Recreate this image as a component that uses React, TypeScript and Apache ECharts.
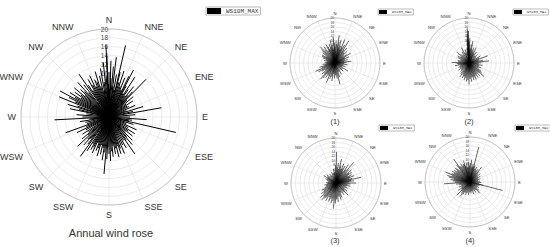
import { useEffect, useRef } from 'react';
import * as echarts from 'echarts';

const directions = ['N', 'NNE', 'NE', 'ENE', 'E', 'ESE', 'SE', 'SSE', 'S', 'SSW', 'SW', 'WSW', 'W', 'WNW', 'NW', 'NNW'];
const speedMax = 20;
const speedStep = 2;
const seriesName = 'WS10M_MAX';
const panelCaptions = ['Annual wind rose', '(1)', '(2)', '(3)', '(4)'];

// [direction in degrees, speed]
const annualWind: number[][] = [
  [341, 8.5], [343, 10.8], [345, 7.2], [347, 9.6], [349, 6.1], [350, 11.2], [352, 8.0], [354, 12.5], [356, 9.3], [357.6, 16.3],
  [358, 13.8], [359, 7.5], [0, 10.2], [1, 6.4], [2, 12.8], [3, 8.8], [5, 11.5], [7, 13.7], [8, 7.0], [10, 9.8],
  [12, 6.3], [13, 16.7], [14, 10.5], [16, 8.2], [18, 11.0], [20, 7.4],
  [22, 9.6], [24, 6.8], [26, 10.3], [27.5, 12.0], [29, 8.0], [31, 6.2], [33, 10.8], [35, 7.6], [37, 5.9], [39, 8.9],
  [41, 6.5], [43, 7.8], [44.5, 12.0], [47, 5.6], [50, 7.2], [53, 4.9], [56, 6.6], [59, 4.8],
  [62, 5.1], [66, 6.5], [70, 4.2], [73, 8.1], [77, 5.6], [80, 12.1], [85, 6.0], [90, 4.8], [94, 8.6], [98, 5.3],
  [101, 4.6], [103, 15.6], [107, 5.8], [111, 4.2], [115, 6.9], [119, 5.0], [123, 7.0],
  [126, 5.4], [129, 6.9], [132, 5.1], [135, 7.5], [138, 6.0], [140, 8.2], [143, 6.6], [145, 10.2], [148, 6.3], [151, 8.0],
  [154, 7.1], [157, 9.0],
  [160, 7.6], [162, 8.8], [164, 6.9], [166, 9.4], [168, 7.3], [170, 8.5], [172, 6.7], [174, 9.1], [176, 7.8], [178, 10.0],
  [180, 8.4], [182, 6.9], [183, 9.6], [185, 13.0], [187, 8.1], [189, 9.9], [191, 7.2], [193, 8.7], [195, 6.6], [197, 9.3],
  [199, 7.5], [201, 8.2], [203, 6.4], [205, 9.0], [207, 7.7], [209, 8.5],
  [211, 7.1], [213, 9.2], [216, 11.1], [218, 7.8], [220, 6.5], [222, 8.6], [224, 7.0], [227, 9.8], [229, 6.3], [231, 7.9],
  [234, 5.8], [237, 7.2], [241, 6.0], [244, 8.1], [247, 5.6], [250, 10.5], [253, 5.2],
  [257, 5.5], [261, 6.7], [264, 4.5], [267, 12.4], [270, 6.0], [274, 7.4], [278, 5.2], [282, 9.1],
  [284, 7.0], [287, 9.8], [289, 7.6], [292, 12.2], [294, 8.4], [296, 10.1], [298, 12.6], [300, 8.9], [302, 10.5], [304, 7.7],
  [306, 9.6], [308, 8.1], [310, 10.3], [312, 7.4], [314, 9.0], [316, 8.0], [318, 10.6], [320, 7.2], [322, 9.3], [325, 11.9],
  [327, 8.6], [329, 7.0], [331, 9.8], [333, 8.2], [335, 10.4], [337, 7.5], [339, 9.1],
];

const wind1: number[][] = [
  [340, 6.5], [343, 9.0], [346, 7.4], [348, 10.4], [351, 8.2], [353, 6.0], [356, 11.6], [358, 9.1], [0, 7.3], [3, 10.0],
  [5, 8.4], [8.7, 12.5], [11, 9.5], [13, 7.1], [15, 10.7], [18, 8.0], [20, 6.2], [22.6, 11.3], [25, 7.6], [28, 9.2],
  [32, 11.6], [35, 7.0], [38, 8.5], [42, 6.1], [46, 7.3], [50, 5.2], [54, 6.4], [58, 8.2], [62, 5.0], [66, 6.8],
  [70, 4.6], [75, 5.9], [80, 4.2], [84, 7.3], [88, 5.1], [93, 4.0], [98, 5.6], [104, 3.8], [110, 4.9], [116, 3.6],
  [122, 6.8], [128, 4.3], [135, 5.2], [142, 3.9], [150, 5.8], [156, 4.4], [162, 6.6], [167, 9.7], [172, 7.0], [177, 5.5],
  [182, 6.9], [186, 4.8], [190, 8.1], [194, 6.2], [198, 7.4], [204, 9.5], [208, 6.3], [212, 7.8], [216, 5.9], [219, 8.7],
  [222, 9.7], [226, 6.8], [230, 7.6], [234, 5.4], [238, 6.9], [242, 8.3], [247, 9.4], [251, 6.1], [255, 7.2], [259, 4.8],
  [264, 5.6], [268, 3.9], [273, 4.6], [278, 3.5], [283, 5.0], [288, 4.1], [293, 5.8], [298, 6.5], [302, 6.8], [306, 5.2],
  [310, 7.1], [314, 8.3], [318, 9.7], [322, 7.5], [326, 8.8], [330, 6.4], [334, 9.2], [337, 7.8],
];

const wind2: number[][] = [
  [350, 5.2], [353, 7.0], [355, 10.5], [356, 13.0], [357, 15.5], [358, 12.2], [359, 14.3], [0, 9.8], [2, 11.0], [4, 6.5],
  [7, 8.3], [10, 9.9], [13, 6.1], [17, 7.2], [21, 5.4], [25, 7.5], [29, 4.8], [34, 5.9], [40, 4.2], [46, 5.3],
  [52, 3.9], [58, 6.0], [64, 5.1], [69, 8.9], [74, 4.6], [79, 6.3], [84, 9.0], [89, 5.5], [94, 4.3], [100, 6.1],
  [106, 4.7], [112, 5.8], [118, 4.9], [124, 6.6], [128, 7.2], [132, 9.2], [136, 6.0], [140, 7.4], [144, 5.9], [148, 7.7],
  [152, 6.3], [156, 8.0], [160, 6.8], [164, 7.9], [168, 6.5], [172, 8.4], [176, 7.1], [180, 9.6], [184, 7.6], [188, 8.3],
  [192, 6.9], [196, 7.8], [200, 6.4], [204, 7.3], [208, 5.8], [213, 7.4], [218, 6.0], [224, 5.3], [230, 4.6], [236, 5.7],
  [242, 4.4], [248, 5.1], [254, 4.0], [259, 6.3], [264, 4.9], [268, 5.5], [272, 7.7], [277, 4.8], [283, 5.2], [290, 4.1],
  [296, 5.5], [302, 6.0], [307, 4.7], [312, 7.4], [317, 5.3], [322, 4.6], [328, 5.9], [334, 7.6], [339, 4.9], [344, 6.2],
];

const wind3: number[][] = [
  [345, 4.5], [350, 6.2], [354, 5.0], [358, 8.1], [1, 13.8], [4, 7.2], [7, 9.0], [10, 6.3], [13, 10.9], [16, 8.0],
  [19, 6.6], [22, 9.3], [25, 7.1], [28, 8.6], [31, 6.0], [34, 9.8], [37, 7.4], [40.6, 12.0], [44, 8.2], [47, 6.5],
  [50, 9.0], [53, 7.3], [56, 8.4], [59, 6.1], [62, 7.9], [65, 6.8], [68, 8.7], [71, 6.2], [74, 7.5], [77, 11.5],
  [80, 6.9], [83, 8.0], [86, 5.8], [90, 9.0], [94, 6.4], [98, 5.2], [103, 6.6], [108, 4.9], [114, 5.7], [120, 4.5],
  [126, 6.1], [131, 5.0], [135, 7.6], [140, 5.4], [146, 6.3], [152, 5.1], [158, 6.9], [163, 7.8], [168, 6.2], [173, 8.5],
  [178, 7.3], [182, 9.1], [186, 11.5], [190, 8.0], [194, 9.3], [198, 7.4], [202, 8.8], [206, 7.0], [210, 9.2], [214, 7.7],
  [217, 8.6], [220, 9.8], [223, 8.1], [227, 9.5], [230, 7.2], [234, 8.0], [238, 6.3], [243, 7.1], [248, 5.4], [254, 4.6],
  [260, 5.3], [266, 3.9], [272, 4.4], [278, 3.6], [285, 4.2], [292, 5.0], [298, 4.3], [301, 6.4], [306, 4.8], [312, 5.5],
  [318, 4.1], [325, 4.9], [332, 3.8], [338, 5.2],
];

const wind4: number[][] = [
  [342, 8.0], [343, 9.9], [346, 7.2], [349, 8.8], [352, 6.6], [355, 9.0], [358, 7.4], [1, 8.5], [4, 9.9], [7, 6.8],
  [10, 8.2], [12, 7.0], [14, 16.0], [17, 7.6], [20, 6.1], [24, 7.3], [28, 5.8], [32, 6.9], [35, 5.1], [38, 8.3],
  [42, 5.7], [46, 4.6], [51, 5.9], [56, 4.2], [61, 5.3], [67, 3.9], [73, 4.8], [79, 3.6], [85, 4.4], [92, 5.0],
  [98, 4.1], [104, 5.9], [104.5, 15.0], [110, 4.5], [116, 3.8], [122, 4.7], [128, 3.9], [133, 5.6], [139, 6.7], [145, 4.4],
  [151, 5.3], [157, 4.0], [163, 5.6], [169, 4.3], [175, 5.1], [181, 4.6], [187, 5.8], [193, 4.9], [199, 6.0], [205, 5.2],
  [210, 6.4], [214, 7.8], [218, 6.1], [222, 5.5], [225, 8.2], [229, 5.0], [234, 6.3], [239, 4.5], [245, 5.4], [251, 4.1],
  [256, 5.0], [261, 6.2], [266, 11.6], [270, 6.8], [274, 7.5], [277, 8.8], [280, 7.3], [283, 9.6], [286, 10.5], [289, 8.6],
  [292, 11.7], [295, 9.0], [298, 8.1], [301, 9.4], [304, 7.8], [307, 8.9], [310, 7.4], [313, 9.2], [316, 8.3], [319, 7.1],
  [322, 9.5], [324.5, 12.5], [327, 8.4], [330, 7.6], [333, 9.1], [336, 7.9], [339, 8.6],
];

const panelData = [annualWind, wind1, wind2, wind3, wind4];

// layout (style, not data)
const panels = [
  { cx: 109, cy: 117, r: 88, dirFont: 9, dirMargin: 5, tickFont: 6.5, lw: 1.0,
    legend: { left: 206, top: 7, iw: 14, ih: 6, font: 6 }, caption: { x: 111, y: 233, font: 11 } },
  { cx: 335, cy: 63, r: 45, dirFont: 4.2, dirMargin: 3, tickFont: 3.2, lw: 0.6,
    legend: { left: 378, top: 9, iw: 8, ih: 4, font: 3.6 }, caption: { x: 335, y: 121, font: 7.5 } },
  { cx: 469, cy: 63, r: 45, dirFont: 4.2, dirMargin: 3, tickFont: 3.2, lw: 0.6,
    legend: { left: 513, top: 9, iw: 8, ih: 4, font: 3.6 }, caption: { x: 469, y: 121, font: 7.5 } },
  { cx: 336, cy: 183, r: 45, dirFont: 4.2, dirMargin: 3, tickFont: 3.2, lw: 0.6,
    legend: { left: 379, top: 125, iw: 8, ih: 4, font: 3.6 }, caption: { x: 335, y: 240, font: 7.5 } },
  { cx: 470, cy: 182, r: 45, dirFont: 4.2, dirMargin: 3, tickFont: 3.2, lw: 0.6,
    legend: { left: 515, top: 125, iw: 8, ih: 4, font: 3.6 }, caption: { x: 470, y: 240, font: 7.5 } },
];

export default function App() {
  const ref = useRef<HTMLDivElement>(null);
  useEffect(() => {
    if (!ref.current) return;
    const chart = echarts.init(ref.current, undefined, { renderer: 'svg' });
    const option: any = {
      animation: false,
      backgroundColor: '#fff',
      polar: panels.map((p) => ({ center: [p.cx, p.cy], radius: p.r })),
      angleAxis: panels.map((p, i) => ({
        polarIndex: i,
        type: 'value',
        min: 0,
        max: 360,
        interval: 22.5,
        startAngle: 90,
        clockwise: true,
        axisLine: { show: true, lineStyle: { color: '#c8c8c8', width: 1 } },
        axisTick: { show: false },
        axisLabel: {
          show: true,
          margin: p.dirMargin,
          fontSize: p.dirFont,
          color: '#333',
          fontFamily: 'Liberation Sans, Arial, sans-serif',
          formatter: (v: number) => (v >= 360 ? '' : directions[Math.round(v / 22.5) % 16]),
        },
        splitLine: { show: true, lineStyle: { color: '#e6e6e6', width: 0.8 } },
      })),
      radiusAxis: panels.map((p, i) => ({
        polarIndex: i,
        type: 'value',
        min: 0,
        max: speedMax,
        interval: speedStep,
        axisLine: { show: false },
        axisTick: { show: false },
        axisLabel: {
          show: true,
          fontSize: p.tickFont,
          color: '#444',
          margin: 1,
          fontFamily: 'Liberation Sans, Arial, sans-serif',
          formatter: (v: number) => (v === 0 ? '' : String(v)),
        },
        splitLine: { show: true, lineStyle: { color: '#e6e6e6', width: 0.8 } },
      })),
      legend: panels.map((p) => ({
        left: p.legend.left,
        top: p.legend.top,
        data: [{ name: seriesName, icon: 'rect' }],
        itemWidth: p.legend.iw,
        itemHeight: p.legend.ih,
        padding: [1, 2, 1, 1],
        borderColor: '#aaa',
        borderWidth: 0.8,
        selectedMode: false,
        textStyle: { fontSize: p.legend.font, color: '#333', fontFamily: 'Liberation Mono, DejaVu Sans Mono, monospace' },
      })),
      series: panelData.map((arr, i) => ({
        type: 'custom',
        name: seriesName,
        coordinateSystem: 'polar',
        polarIndex: i,
        itemStyle: { color: '#000' },
        encode: { radius: 0, angle: 1 },
        data: arr.map(([d, s]) => [s, d]),
        renderItem: (params: any, api: any) => {
          const s = api.value(0);
          const d = api.value(1);
          const p0 = api.coord([0, d]);
          const p1 = api.coord([s, d]);
          return {
            type: 'line',
            shape: { x1: p0[0], y1: p0[1], x2: p1[0], y2: p1[1] },
            style: { stroke: '#000', lineWidth: panels[i].lw },
          };
        },
      })),
      graphic: panels.map((p, i) => ({
        type: 'text',
        x: p.caption.x,
        y: p.caption.y,
        style: {
          text: panelCaptions[i],
          fontSize: p.caption.font,
          fill: '#333',
          fontFamily: 'Liberation Sans, Arial, sans-serif',
          align: 'center',
          verticalAlign: 'middle',
        },
      })),
    };
    chart.setOption(option);
    return () => chart.dispose();
  }, []);
  return <div ref={ref} style={{ position: 'absolute', left: 0, top: 0, width: 550, height: 247 }} />;
}
